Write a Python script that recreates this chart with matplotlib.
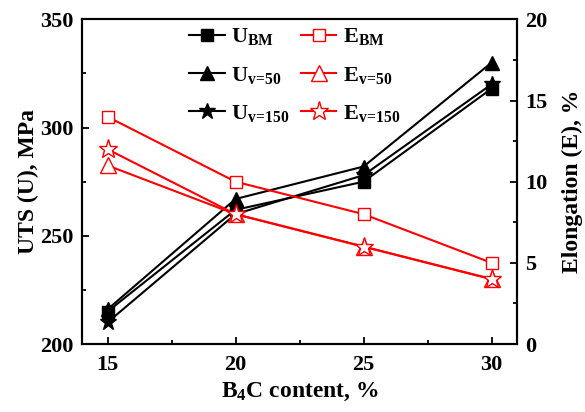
import matplotlib
matplotlib.use("Agg")
import matplotlib.pyplot as plt

plt.rcParams['font.family'] = ['Liberation Serif', 'DejaVu Serif']
plt.rcParams['font.weight'] = 'bold'
plt.rcParams['mathtext.fontset'] = 'custom'
plt.rcParams['mathtext.rm'] = 'Liberation Serif:bold'
plt.rcParams['mathtext.bf'] = 'Liberation Serif:bold'
plt.rcParams['mathtext.it'] = 'Liberation Serif:bold'

b4c = [15, 20, 25, 30]
uts_bm = [215, 262, 275, 318]
uts_v50 = [216, 267, 282, 330]
uts_v150 = [210, 260, 278, 320]
el_bm = [14, 10, 8, 5]
el_v50 = [11, 8, 6, 4]
el_v150 = [12, 8, 6, 4]

fig = plt.figure(figsize=(5.85, 4.12), dpi=100)
ax = fig.add_axes([0.140, 0.165, 0.744, 0.788])
ax2 = ax.twinx()

lw = 1.5
h1, = ax.plot(b4c, uts_bm, color='black', lw=lw, marker='s', ms=8, label=r'U$_{\rm BM}$')
h2, = ax.plot(b4c, uts_v50, color='black', lw=lw, marker='^', ms=10, label=r'U$_{\rm v\!=\!50}$')
h3, = ax.plot(b4c, uts_v150, color='black', lw=lw, marker='*', ms=12, label=r'U$_{\rm v\!=\!150}$')
h4, = ax2.plot(b4c, el_bm, color='red', lw=lw, marker='s', ms=9, mfc='white', mec='red', mew=1.0, label=r'E$_{\rm BM}$')
h5, = ax2.plot(b4c, el_v50, color='red', lw=lw, marker='^', ms=11, mfc='white', mec='red', mew=1.0, label=r'E$_{\rm v\!=\!50}$')
h6, = ax2.plot(b4c, el_v150, color='red', lw=lw, marker='*', ms=14, mfc='white', mec='red', mew=1.0, label=r'E$_{\rm v\!=\!150}$')

ax.set_xlim(14, 31)
ax.set_ylim(200, 350)
ax2.set_ylim(0, 20)
ax.set_xticks([15, 20, 25, 30])
ax.set_xticks([17.5, 22.5, 27.5], minor=True)
ax.set_yticks([200, 250, 300, 350])
ax.set_yticks([225, 275, 325], minor=True)
ax2.set_yticks([0, 5, 10, 15, 20])
ax2.set_yticks([2.5, 7.5, 12.5, 17.5], minor=True)

for a in (ax, ax2):
    a.tick_params(which='major', direction='in', length=5, width=1.3, labelsize=16, pad=6)
    a.tick_params(which='minor', direction='in', length=3, width=1.3)
    for s in a.spines.values():
        s.set_linewidth(1.5)
ax.tick_params(axis='x', which='major', pad=8)
ax.tick_params(axis='y', which='both', right=False)
ax2.tick_params(axis='y', which='both', left=False)

ax.set_xlabel(r'B$_{\rm 4}$C content, %', fontsize=17, fontweight='bold', labelpad=4)
ax.set_ylabel('UTS (U), MPa', fontsize=17, fontweight='bold', labelpad=1)
ax2.set_ylabel('Elongation (E), %', fontsize=17, fontweight='bold', labelpad=10)

leg = ax2.legend([h1, h2, h3, h4, h5, h6], [h.get_label() for h in (h1, h2, h3, h4, h5, h6)],
                 ncol=2, loc='upper left', bbox_to_anchor=(0.2, 1.04), frameon=False,
                 fontsize=16, handlelength=1.6, labelspacing=0.78, columnspacing=0.5,
                 handletextpad=0.3)

fig.savefig('out.png', dpi=100)
